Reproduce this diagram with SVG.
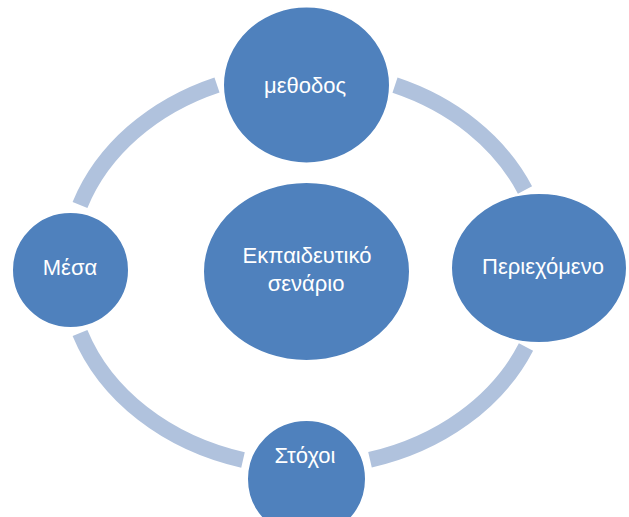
<svg xmlns="http://www.w3.org/2000/svg" width="629" height="517" viewBox="0 0 629 517">
<style>
.ring{fill:none;stroke:#B0C2DD;stroke-width:16;stroke-linecap:butt}
.node{fill:#4F81BD;stroke:#FFFFFF;stroke-width:2}
.lbl{font-family:"Liberation Sans","DejaVu Sans",sans-serif;font-size:22px;fill:#FFFFFF;text-anchor:middle}
</style>
<rect width="629" height="517" fill="#FFFFFF"/>
<g id="connectors">
<path class="ring" d="M395,85.2 A239,198 0 0 1 525,190"/>
<path class="ring" d="M526,347 A239,198 0 0 1 370,459.8"/>
<path class="ring" d="M243,460 A239,198 0 0 1 80,333"/>
<path class="ring" d="M80,205 A239,198 0 0 1 217,85"/>
</g>
<g id="node-center">
<ellipse class="node" cx="306.5" cy="271.5" rx="103.5" ry="89.5"/>
<text class="lbl" x="307" y="263">Εκπαιδευτικό</text>
<text class="lbl" x="306" y="291">σενάριο</text>
</g>
<g id="node-methodos">
<ellipse class="node" cx="306.5" cy="85" rx="83.5" ry="78.5"/>
<text class="lbl" x="305" y="93">μεθοδος</text>
</g>
<g id="node-periexomeno">
<ellipse class="node" cx="539" cy="268" rx="88" ry="75"/>
<text class="lbl" x="543" y="274">Περιεχόμενο</text>
</g>
<g id="node-stoxoi">
<ellipse class="node" cx="306.5" cy="479" rx="59.5" ry="59"/>
<text class="lbl" x="305" y="463">Στόχοι</text>
</g>
<g id="node-mesa">
<ellipse class="node" cx="70.5" cy="270" rx="58.5" ry="58"/>
<text class="lbl" x="70" y="275">Μέσα</text>
</g>
</svg>
